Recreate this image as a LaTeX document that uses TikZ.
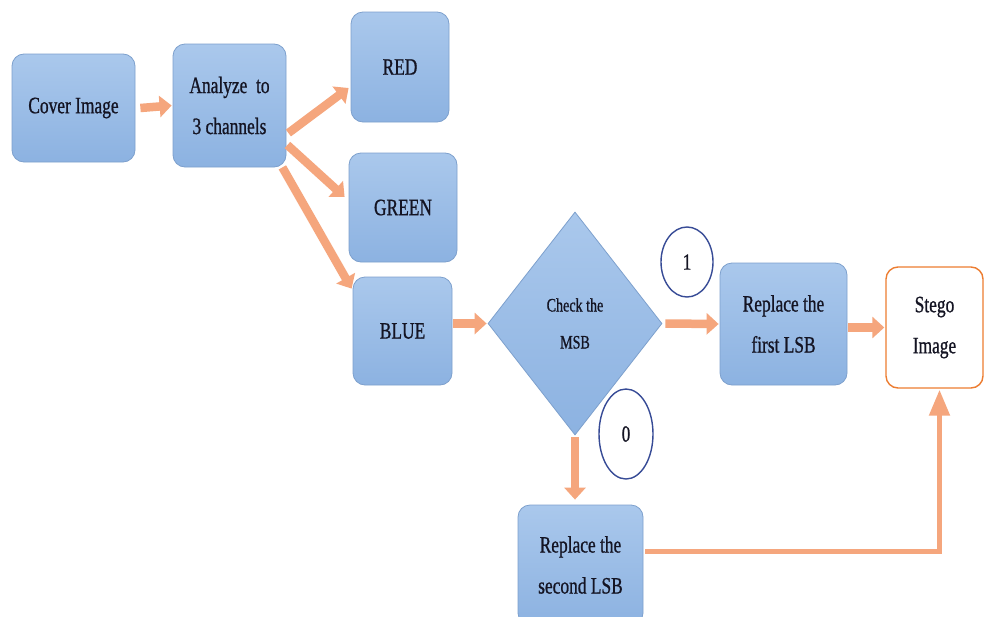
\documentclass[tikz,border=0pt]{standalone}
\usepackage{fontspec}
\newfontfamily\tnr[FakeStretch=0.74,FakeBold=0.8]{Liberation Serif}
\usetikzlibrary{arrows.meta,shapes.geometric,calc}
\definecolor{boxtop}{RGB}{170,200,236}
\definecolor{boxbot}{RGB}{140,178,225}
\definecolor{boxline}{RGB}{125,160,205}
\definecolor{arr}{RGB}{245,166,125}
\definecolor{stegoline}{RGB}{237,125,49}
\definecolor{ringline}{RGB}{55,75,150}
\definecolor{txt}{RGB}{20,20,35}
\tikzset{
  bbox/.style={draw=boxline, line width=0.8pt, rounded corners=12pt, top color=boxtop, bottom color=boxbot,
    text=txt, font=\tnr\fontsize{23.5}{41}\selectfont, align=center, inner sep=0pt},
  ring/.style={ellipse, draw=ringline, line width=1.4pt, fill=white, text=txt, font=\tnr\fontsize{23}{24}\selectfont, inner sep=0pt},
  thickarr/.style={draw=arr, line width=8.5pt, -{Triangle[length=12pt,width=21pt]}, arr},
  thinarr/.style={draw=arr, line width=5pt, -{Triangle[length=26pt,width=20pt]}, arr},
}
\begin{document}
\begin{tikzpicture}[x=1pt,y=-1pt]
\useasboundingbox (0,0) rectangle (985,616);
\clip (0,0) rectangle (985,616);
\fill[white] (0,0) rectangle (985,616);

\node[bbox, minimum width=123pt, minimum height=108pt] (cover) at (73.5,108) {Cover Image};
\node[bbox, minimum width=113pt, minimum height=123pt] (analyze) at (229.5,105.5) {Analyze\ \ to\\3 channels};
\node[bbox, minimum width=98pt, minimum height=110pt] (red) at (400,67) {RED};
\node[bbox, minimum width=108pt, minimum height=109pt] (green) at (403,207.5) {GREEN};
\node[bbox, minimum width=99pt, minimum height=108pt] (blue) at (402.5,331) {BLUE};
\node[diamond, draw=boxline, line width=0.8pt, top color=boxtop, bottom color=boxbot, inner sep=0pt,
      minimum width=174pt, minimum height=223pt, text=txt, align=center,
      font=\tnr\fontsize{19}{37}\selectfont] (check) at (575,323.5) {Check the\\MSB};
\node[bbox, minimum width=127pt, minimum height=122pt] (first) at (783.5,324) {Replace the\\first LSB};
\node[draw=stegoline, line width=1.4pt, rounded corners=12pt, fill=white, text=txt,
      font=\tnr\fontsize{23.5}{41}\selectfont, align=center, inner sep=0pt,
      minimum width=97pt, minimum height=121pt] (stego) at (934.5,327.5) {Stego\\Image};
\node[bbox, minimum width=125pt, minimum height=120pt] (second) at (580.5,565) {Replace the\\second LSB};

\node[ring, minimum width=52pt, minimum height=70pt] (one) at (687,262) {1};
\node[ring, minimum width=54pt, minimum height=90pt] (zero) at (626,434) {0};

\draw[thickarr] ([xshift=5pt]cover.east) -- ([xshift=-1pt]analyze.west);
\draw[thickarr] ($(analyze.east)+(2,27.5)$) -- ($(red.west)+(-2,21)$);
\draw[thickarr] ($(analyze.east)+(1,39.5)$) -- ($(green.west)+(-4,-10.5)$);
\draw[thickarr] ($(analyze.south east)+(-4,0)$) -- ($(blue.north west)+(-1,12)$);
\draw[thickarr] ([xshift=1pt]blue.east |- check.west) -- ([xshift=-1pt]check.west);
\draw[thickarr] ([xshift=3pt]check.east) -- ([xshift=-1pt]first.west);
\draw[thickarr] ([xshift=1pt]first.east |- stego.west) -- ([xshift=-1pt]stego.west);
\draw[thickarr] ([yshift=-2pt]check.south) -- ($(check.south |- second.north)+(0,-5)$);
\draw[thinarr] ($(second.east)+(2,-14)$) -| ($(stego.south)+(5,1)$);
\end{tikzpicture}
\end{document}
